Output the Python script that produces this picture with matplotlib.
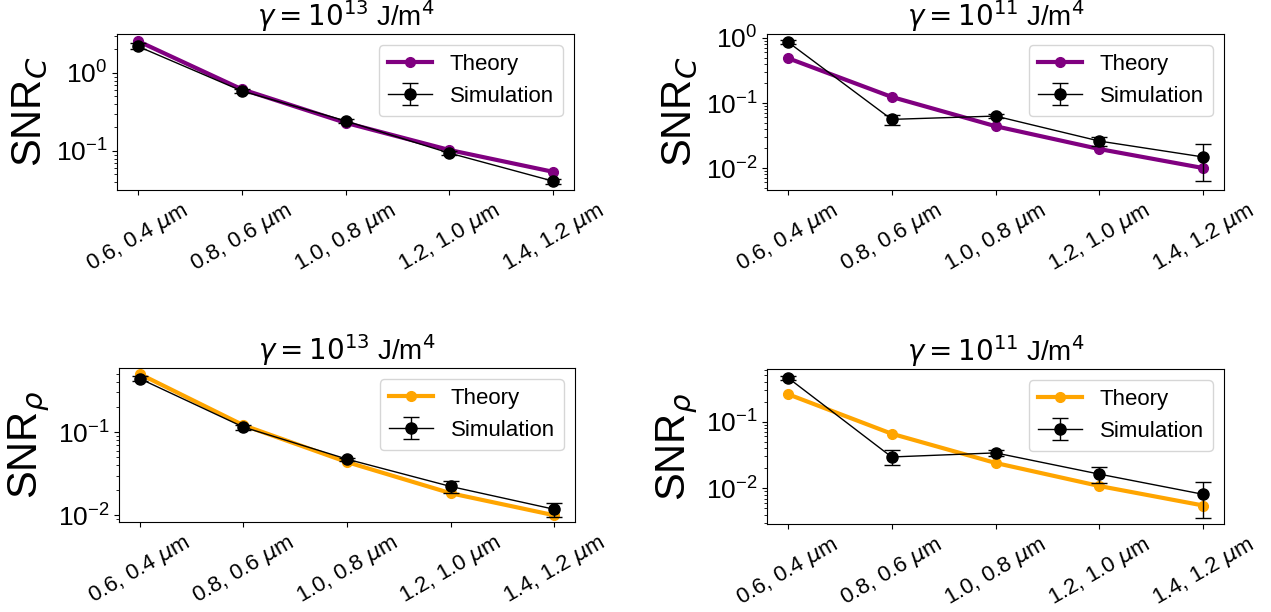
import matplotlib
matplotlib.use("Agg")
import matplotlib.pyplot as plt
import numpy as np

plt.rcParams['font.family'] = ['Liberation Sans', 'DejaVu Sans']
plt.rcParams['mathtext.fontset'] = 'dejavusans'

categories = [r"0.6, 0.4 $\mu$m", r"0.8, 0.6 $\mu$m", r"1.0, 0.8 $\mu$m",
              r"1.2, 1.0 $\mu$m", r"1.4, 1.2 $\mu$m"]

# SNR_C, gamma = 1e13
theory_c13 = [2.57, 0.62, 0.23, 0.103, 0.054]
sim_c13 = [2.2, 0.59, 0.243, 0.094, 0.041]
err_c13 = [0.2, 0.04, 0.012, 0.006, 0.003]

# SNR_C, gamma = 1e11
theory_c11 = [0.49, 0.124, 0.044, 0.0196, 0.0100]
sim_c11 = [0.87, 0.056, 0.063, 0.026, 0.0148]
err_c11 = [0.07, 0.0095, 0.004, 0.0045, 0.0085]

# SNR_rho, gamma = 1e13
theory_r13 = [0.50, 0.121, 0.0436, 0.0184, 0.0100]
sim_r13 = [0.44, 0.115, 0.0473, 0.0222, 0.0118]
err_r13 = [0.03, 0.008, 0.002, 0.0036, 0.0022]

# SNR_rho, gamma = 1e11
theory_r11 = [0.26, 0.066, 0.024, 0.0108, 0.0055]
sim_r11 = [0.46, 0.0295, 0.034, 0.0163, 0.0081]
err_r11 = [0.03, 0.0075, 0.003, 0.0045, 0.0045]

W, H = 1271, 612
fig = plt.figure(figsize=(W / 100, H / 100), dpi=100)

def add_ax(x0, y0, x1, y1):
    return fig.add_axes([x0 / W, 1 - y1 / H, (x1 - x0) / W, (y1 - y0) / H])

panels = [
    (add_ax(117, 34, 574, 190), theory_c13, sim_c13, err_c13, 'purple',
     r"$\gamma = 10^{13}$ J/m$^4$", r"SNR$_C$", (0.0316, 3.16)),
    (add_ax(767, 34, 1224, 190), theory_c11, sim_c11, err_c11, 'purple',
     r"$\gamma = 10^{11}$ J/m$^4$", r"SNR$_C$", (0.0046, 1.15)),
    (add_ax(119, 368, 575, 522), theory_r13, sim_r13, err_r13, 'orange',
     r"$\gamma = 10^{13}$ J/m$^4$", r"SNR$_\rho$", (0.0083, 0.59)),
    (add_ax(767, 369, 1224, 524), theory_r11, sim_r11, err_r11, 'orange',
     r"$\gamma = 10^{11}$ J/m$^4$", r"SNR$_\rho$", (0.0029, 0.62)),
]

x = np.arange(len(categories))
for ax, th, sim, err, col, title, ylab, ylim in panels:
    ax.plot(x, th, '-o', color=col, lw=3, ms=7, label='Theory')
    ax.errorbar(x, sim, yerr=err, fmt='-o', color='black', lw=1, ms=8,
                capsize=6, label='Simulation')
    ax.set_yscale('log')
    ax.set_ylim(*ylim)
    ax.set_xlim(-0.2, 4.2)
    ax.set_xticks(x)
    ax.set_xticklabels(categories, rotation=30, fontsize=16)
    ax.tick_params(axis='y', labelsize=19)
    ax.set_title(title, fontsize=20)
    ax.set_ylabel(ylab, fontsize=30)
    ax.legend(loc='upper right', fontsize=16)

fig.savefig('out.png', dpi=100)
